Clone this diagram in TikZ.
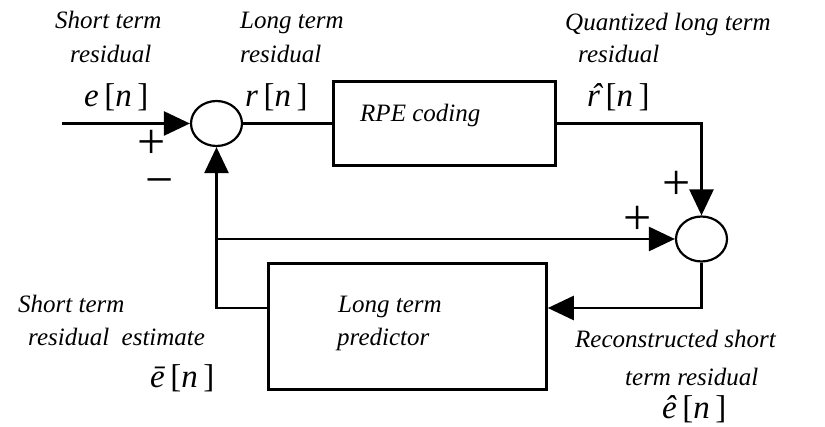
\documentclass[tikz,border=0pt]{standalone}
\usepackage{fontspec}
\newfontfamily\serifrm{Liberation Serif}
\usetikzlibrary{arrows.meta,shapes.geometric}
% circumflex set over a lowercase italic letter
\newcommand\hatover[1]{\leavevmode\rlap{\kern0.11em\char"02C6}#1}
\begin{document}
\begin{tikzpicture}[x=1pt,y=-1pt,
  wire/.style={line width=2.6pt},
  arr/.style={wire,-{Triangle[length=26pt,width=24pt]}},
  blk/.style={draw,line width=2.6pt,rectangle,inner sep=0pt},
  sum/.style={draw,line width=2.2pt,ellipse,inner sep=0pt,minimum width=51pt,minimum height=45pt},
  lbl/.style={anchor=base west,inner sep=0pt,font=\serifrm\itshape\fontsize{25}{25}\selectfont},
  sig/.style={anchor=base west,inner sep=0pt,font=\serifrm\fontsize{33}{33}\selectfont},
  sgn/.style={inner sep=0pt,font=\serifrm\fontsize{50}{50}\selectfont}]
\useasboundingbox (0,0) rectangle (825,427);
\newcommand\sg[1]{{\itshape #1}\,[{\itshape n}\,]}

% blocks and summing junctions
\node[sum] (sumL) at (216.5,123.5) {};
\node[sum] (sumR) at (701.5,239) {};
\node[blk,minimum width=222pt,minimum height=84pt] (rpe) at (444.5,123.5) {};
\node[blk,minimum width=278pt,minimum height=126pt] (ltp) at (407.5,326.5) {};
\coordinate (in) at (62,123.5);

% signal paths
\draw[arr] (in) -- (sumL.west);
\draw[wire] (sumL.east) -- (rpe.west);
\draw[arr] (rpe.east) -| (sumR.north);
\draw[arr] (sumR.south) |- ([yshift=18.5pt]ltp.east);
\draw[arr] ([yshift=18.5pt]ltp.west) -| (sumL.south);
\draw[arr] (sumL.south |- sumR.west) -- (sumR.west);

% block texts
\node[lbl] (trpe) at (360,122) {RPE coding};
\node[lbl] (tltp1) at (338,313) {Long term};
\node[lbl] (tltp2) at (337,346) {predictor};

% signal names
\node[lbl] (a1) at (55,29) {Short term};
\node[lbl] (a2) at (70,63) {residual};
\node[sig] (a3) at (84,107) {\sg{e}};

\node[lbl] (b1) at (240,29) {Long term};
\node[lbl] (b2) at (240,63) {residual};
\node[sig] (b3) at (245,107) {\sg{r}};

\node[lbl] (c1) at (565,31) {Quantized long term};
\node[lbl] (c2) at (578,63) {residual};
\node[sig] (c3) at (587,107) {\sg{\hatover{r}}};

\node[lbl] (d1) at (18,313) {Short term};
\node[lbl] (d2) at (28,346) {residual\ \ estimate};
\node[sig] (d3) at (150,388) {\sg{\char"0113}};

\node[lbl] (f1) at (575,348) {Reconstructed short};
\node[lbl] (f2) at (625,386) {term residual};
\node[sig] (f3) at (662,419) {\sg{\char"00EA}};

% signs at the junction inputs
\node[sgn] (p1) at (152,144) {+};
\node[sgn] (m1) at (160,188) {\char"2212};
\node[sgn] (p2) at (677,185) {+};
\node[sgn] (p3) at (638,220) {+};
\end{tikzpicture}
\end{document}
